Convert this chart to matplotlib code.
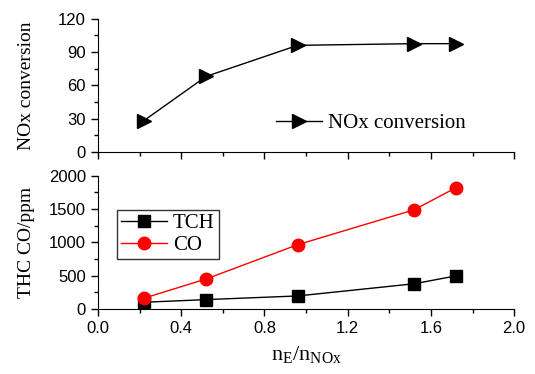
import matplotlib
matplotlib.use('Agg')
import matplotlib.pyplot as plt
from matplotlib.ticker import MultipleLocator, AutoMinorLocator

# data
ratio = [0.22, 0.52, 0.96, 1.52, 1.72]
nox_conversion = [28, 68, 96, 97.5, 97.5]
tch = [100, 140, 195, 378, 496]
co = [160, 450, 965, 1490, 1820]

SERIF = 'Liberation Serif'
SANS = 'Liberation Sans'

fig = plt.figure(figsize=(5.35, 3.74), dpi=100)
ax1 = fig.add_axes([0.183, 0.594, 0.778, 0.356])
ax2 = fig.add_axes([0.183, 0.174, 0.778, 0.356])


def style_axis(ax):
    for side in ['top', 'right']:
        ax.spines[side].set_visible(False)
    ax.set_xlim(0, 2.0)
    ax.xaxis.set_major_locator(MultipleLocator(0.4))
    ax.xaxis.set_minor_locator(AutoMinorLocator(2))
    ax.yaxis.set_minor_locator(AutoMinorLocator(2))
    ax.tick_params(which='major', direction='out', length=5, width=1)
    ax.tick_params(which='minor', direction='out', length=3, width=1)
    for lab in ax.get_xticklabels() + ax.get_yticklabels():
        lab.set_fontfamily(SANS)
        lab.set_fontsize(12)


# top panel: NOx conversion
ax1.plot(ratio, nox_conversion, color='black', lw=1, marker='>', ms=10,
         label='NOx conversion')
ax1.set_ylim(0, 120)
ax1.yaxis.set_major_locator(MultipleLocator(30))
style_axis(ax1)
ax1.tick_params(axis='x', labelbottom=False)
ax1.set_ylabel('NOx conversion', fontfamily=SERIF, fontsize=14)
ax1.yaxis.set_label_coords(-0.15, 0.5)
ax1.legend(loc='lower right', frameon=False, prop={'family': SERIF, 'size': 15},
           handlelength=2.2, handletextpad=0.3, bbox_to_anchor=(0.93, 0.0))

# bottom panel: THC and CO
ax2.plot(ratio, tch, color='black', lw=1, marker='s', ms=8, label='TCH')
ax2.plot(ratio, co, color='red', lw=1, marker='o', ms=9, label='CO')
ax2.set_ylim(0, 2000)
ax2.yaxis.set_major_locator(MultipleLocator(500))
style_axis(ax2)
ax2.set_ylabel('THC CO/ppm', fontfamily=SERIF, fontsize=14)
ax2.yaxis.set_label_coords(-0.15, 0.5)
ax2.set_xlabel('n$_\\mathregular{E}$/n$_\\mathregular{NOx}$', fontfamily=SERIF,
               fontsize=16, labelpad=6)
leg = ax2.legend(loc='upper left', prop={'family': SERIF, 'size': 15},
                 bbox_to_anchor=(0.045, 0.745), fancybox=False, edgecolor='black',
                 handlelength=2.2, handletextpad=0.3, borderpad=0.2,
                 labelspacing=0.1, borderaxespad=0)
leg.get_frame().set_linewidth(1)

fig.savefig('out.png', dpi=100)
